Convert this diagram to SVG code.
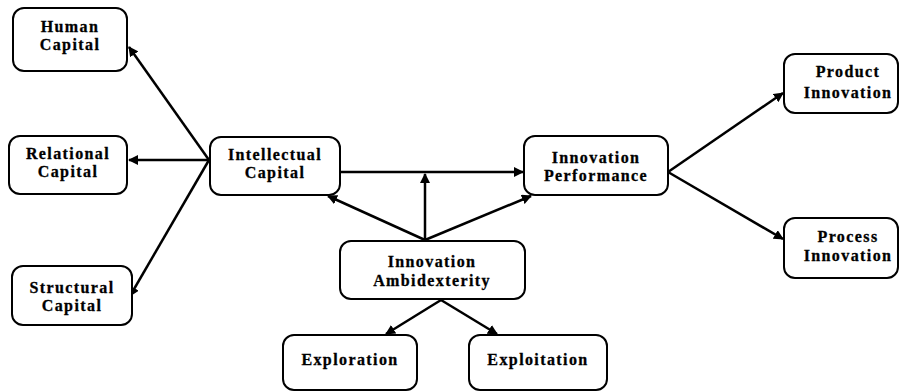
<svg xmlns="http://www.w3.org/2000/svg" width="904" height="392" viewBox="0 0 904 392">
  <defs>
    <marker id="arrow" viewBox="0 0 10 10" refX="9" refY="5" markerWidth="4" markerHeight="4" orient="auto" markerUnits="strokeWidth">
      <path d="M0,0 L10,5 L0,10 Z" fill="#000"/>
    </marker>
    <style>
      .box { fill: #fff; stroke: #000; stroke-width: 2; }
      .lbl { font-family: "Liberation Serif", "DejaVu Serif", serif; font-weight: bold; font-size: 16px; letter-spacing: 1.4px; text-anchor: middle; fill: #000; stroke: #000; stroke-width: 0.3; }
      .edge { stroke: #000; stroke-width: 2.5; fill: none; marker-end: url(#arrow); }
    </style>
  </defs>
  <rect width="904" height="392" fill="#fff"/>

  <g id="connectors">
    <!-- Intellectual Capital to its three components -->
    <line class="edge" x1="209" y1="160" x2="129" y2="47"/>
    <line class="edge" x1="209" y1="160" x2="129" y2="160"/>
    <line class="edge" x1="209" y1="160" x2="130" y2="296"/>
    <!-- Intellectual Capital to Innovation Performance -->
    <line class="edge" x1="340" y1="172" x2="523" y2="172"/>
    <!-- Innovation Ambidexterity effects -->
    <line class="edge" x1="425" y1="240" x2="425" y2="174"/>
    <line class="edge" x1="425" y1="240" x2="328" y2="196"/>
    <line class="edge" x1="425" y1="240" x2="531" y2="196"/>
    <!-- Innovation Ambidexterity components -->
    <line class="edge" x1="441" y1="300" x2="386" y2="334"/>
    <line class="edge" x1="441" y1="300" x2="497" y2="334"/>
    <!-- Innovation Performance outcomes -->
    <line class="edge" x1="668" y1="172" x2="783" y2="93"/>
    <line class="edge" x1="668" y1="172" x2="783" y2="239"/>
  </g>

  <g id="human-capital">
    <rect class="box" x="13" y="8" width="114" height="63" rx="11"/>
    <text class="lbl" x="70" y="32">Human</text>
    <text class="lbl" x="70" y="50">Capital</text>
  </g>

  <g id="relational-capital">
    <rect class="box" x="9" y="136" width="118" height="58" rx="11"/>
    <text class="lbl" x="68" y="159">Relational</text>
    <text class="lbl" x="68" y="177">Capital</text>
  </g>

  <g id="structural-capital">
    <rect class="box" x="12" y="266" width="120" height="59" rx="11"/>
    <text class="lbl" x="72" y="293">Structural</text>
    <text class="lbl" x="72" y="311">Capital</text>
  </g>

  <g id="intellectual-capital">
    <rect class="box" x="210" y="137" width="130" height="58" rx="11"/>
    <text class="lbl" x="275" y="160">Intellectual</text>
    <text class="lbl" x="275" y="178">Capital</text>
  </g>

  <g id="innovation-performance">
    <rect class="box" x="524" y="136" width="144" height="59" rx="11"/>
    <text class="lbl" x="596" y="163">Innovation</text>
    <text class="lbl" x="596" y="181">Performance</text>
  </g>

  <g id="innovation-ambidexterity">
    <rect class="box" x="340" y="241" width="185" height="58" rx="11"/>
    <text class="lbl" x="432" y="267">Innovation</text>
    <text class="lbl" x="432" y="286">Ambidexterity</text>
  </g>

  <g id="exploration">
    <rect class="box" x="283" y="335" width="134" height="55" rx="11"/>
    <text class="lbl" x="350" y="365">Exploration</text>
  </g>

  <g id="exploitation">
    <rect class="box" x="469" y="335" width="138" height="55" rx="11"/>
    <text class="lbl" x="538" y="365">Exploitation</text>
  </g>

  <g id="product-innovation">
    <rect class="box" x="784" y="54" width="114" height="59" rx="11"/>
    <text class="lbl" x="848" y="77">Product</text>
    <text class="lbl" x="848" y="98">Innovation</text>
  </g>

  <g id="process-innovation">
    <rect class="box" x="784" y="218" width="114" height="60" rx="11"/>
    <text class="lbl" x="848" y="242">Process</text>
    <text class="lbl" x="848" y="261">Innovation</text>
  </g>
</svg>
